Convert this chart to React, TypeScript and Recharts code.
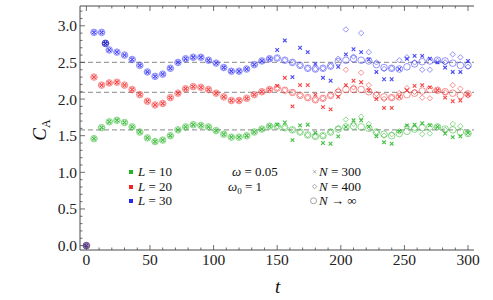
import React from 'react';
import { ScatterChart, Scatter, XAxis, YAxis, ReferenceLine } from 'recharts';

// time grid
const T = [0, 6, 12, 18, 24, 30, 36, 42, 48, 54, 60,
  66, 72, 78, 84, 90, 96, 102, 108, 114, 120,
  126, 132, 138, 144, 150, 156, 162, 168, 174, 180,
  186, 192, 198, 204, 210, 216, 222, 228, 234, 240,
  246, 252, 258, 264, 270, 276, 282, 288, 294, 300];

// L = 30 (blue)
const L30_INF = [0, 2.91, 2.91, 2.67, 2.64, 2.60, 2.54, 2.46, 2.37, 2.31, 2.34,
  2.42, 2.50, 2.55, 2.57, 2.57, 2.53, 2.49, 2.43, 2.38, 2.38,
  2.41, 2.47, 2.52, 2.55, 2.56, 2.53, 2.50, 2.46, 2.42, 2.41,
  2.42, 2.45, 2.51, 2.53, 2.55, 2.53, 2.52, 2.47, 2.43, 2.42,
  2.41, 2.44, 2.48, 2.51, 2.52, 2.53, 2.52, 2.49, 2.46, 2.46];
const L30_N400 = [0, 2.91, 2.91, 2.67, 2.64, 2.60, 2.54, 2.46, 2.37, 2.31, 2.34,
  2.42, 2.50, 2.55, 2.57, 2.57, 2.53, 2.49, 2.43, 2.38, 2.38,
  2.41, 2.47, 2.52, 2.55, 2.56, 2.53, 2.50, 2.46, 2.42, 2.41,
  2.42, 2.45, 2.55, 2.95, 2.58, 2.90, 2.64, 2.50, 2.41, 2.42,
  2.53, 2.57, 2.50, 2.40, 2.40, 2.52, 2.50, 2.61, 2.57, 2.44];
const L30_N300 = [0, 2.91, 2.91, 2.67, 2.64, 2.60, 2.54, 2.46, 2.37, 2.31, 2.34,
  2.42, 2.50, 2.55, 2.57, 2.57, 2.53, 2.49, 2.43, 2.38, 2.38,
  2.41, 2.47, 2.52, 2.55, 2.67, 2.80, 2.30, 2.70, 2.64, 2.48,
  2.29, 2.25, 2.44, 2.61, 2.68, 2.64, 2.54, 2.37, 2.27, 2.27,
  2.41, 2.55, 2.59, 2.59, 2.55, 2.50, 2.43, 2.37, 2.37, 2.52];

// L = 20 (red)
const L20_INF = [0, 2.30, 2.19, 2.22, 2.23, 2.19, 2.13, 2.06, 1.97, 1.92, 1.94,
  2.02, 2.08, 2.14, 2.17, 2.16, 2.13, 2.08, 2.03, 1.98, 1.98,
  2.01, 2.06, 2.10, 2.13, 2.15, 2.12, 2.09, 2.05, 2.02, 1.99,
  2.01, 2.05, 2.09, 2.13, 2.13, 2.13, 2.10, 2.05, 2.03, 2.02,
  2.03, 2.06, 2.08, 2.11, 2.13, 2.12, 2.10, 2.08, 2.05, 2.07];
const L20_N400 = [0, 2.30, 2.19, 2.22, 2.23, 2.19, 2.13, 2.06, 1.97, 1.92, 1.94,
  2.02, 2.08, 2.14, 2.17, 2.16, 2.13, 2.08, 2.03, 1.98, 1.98,
  2.01, 2.06, 2.10, 2.13, 2.15, 2.12, 2.09, 2.05, 2.02, 1.99,
  2.01, 2.05, 2.12, 2.40, 2.16, 2.36, 2.19, 2.07, 2.00, 2.02,
  2.08, 2.15, 2.10, 2.02, 2.01, 2.12, 2.09, 2.19, 2.14, 2.05];
const L20_N300 = [0, 2.30, 2.19, 2.22, 2.23, 2.19, 2.13, 2.06, 1.97, 1.92, 1.94,
  2.02, 2.08, 2.14, 2.17, 2.16, 2.13, 2.08, 2.03, 1.98, 1.98,
  2.01, 2.06, 2.10, 2.13, 2.18, 2.29, 1.90, 2.19, 2.19, 2.06,
  1.89, 1.86, 2.03, 2.19, 2.25, 2.23, 2.12, 2.00, 1.88, 1.88,
  2.03, 2.12, 2.18, 2.19, 2.16, 2.12, 2.02, 1.97, 1.98, 2.06];

// L = 10 (green)
const L10_INF = [0, 1.46, 1.61, 1.69, 1.71, 1.68, 1.62, 1.55, 1.47, 1.42, 1.44,
  1.50, 1.58, 1.62, 1.65, 1.64, 1.62, 1.57, 1.52, 1.48, 1.48,
  1.50, 1.55, 1.59, 1.63, 1.63, 1.61, 1.58, 1.55, 1.51, 1.49,
  1.50, 1.55, 1.59, 1.62, 1.63, 1.62, 1.60, 1.55, 1.52, 1.50,
  1.53, 1.56, 1.59, 1.61, 1.62, 1.62, 1.59, 1.58, 1.55, 1.53];
const L10_N400 = [0, 1.46, 1.61, 1.69, 1.71, 1.68, 1.62, 1.55, 1.47, 1.42, 1.44,
  1.50, 1.58, 1.62, 1.65, 1.64, 1.62, 1.57, 1.52, 1.48, 1.48,
  1.50, 1.55, 1.59, 1.63, 1.63, 1.61, 1.58, 1.55, 1.51, 1.49,
  1.50, 1.55, 1.60, 1.72, 1.66, 1.76, 1.66, 1.55, 1.50, 1.52,
  1.56, 1.62, 1.60, 1.52, 1.53, 1.62, 1.58, 1.66, 1.63, 1.53];
const L10_N300 = [0, 1.46, 1.61, 1.69, 1.71, 1.68, 1.62, 1.55, 1.47, 1.42, 1.44,
  1.50, 1.58, 1.62, 1.65, 1.64, 1.62, 1.57, 1.52, 1.48, 1.48,
  1.50, 1.55, 1.59, 1.63, 1.65, 1.68, 1.44, 1.64, 1.65, 1.54,
  1.40, 1.39, 1.49, 1.62, 1.71, 1.71, 1.62, 1.49, 1.41, 1.39,
  1.56, 1.64, 1.65, 1.67, 1.64, 1.62, 1.53, 1.48, 1.49, 1.54];

// extra sample (dark blue)
const EXTRA_T = [15];
const EXTRA_L30 = [2.76];

// asymptotic dashed levels
const LEVELS = [1.58, 2.09, 2.50];

const X_TICKS = [0, 10, 20, 30, 40, 50, 60, 70, 80, 90, 100, 110, 120, 130, 140, 150,
  160, 170, 180, 190, 200, 210, 220, 230, 240, 250, 260, 270, 280, 290, 300];
const Y_TICKS = [0, 0.1, 0.2, 0.3, 0.4, 0.5, 0.6, 0.7, 0.8, 0.9, 1.0, 1.1, 1.2, 1.3, 1.4, 1.5,
  1.6, 1.7, 1.8, 1.9, 2.0, 2.1, 2.2, 2.3, 2.4, 2.5, 2.6, 2.7, 2.8, 2.9, 3.0, 3.1, 3.2];

const GREEN = '#22b422';
const RED = '#f42424';
const BLUE = '#2828f4';
const FRAME = '#4a4a4a';
const SERIF = "'Liberation Serif', 'Times New Roman', Times, serif";

const build = (ts: number[], vs: number[]) => ts.map((t, i) => ({ t, v: vs[i] }));

const ok = (p: any) => Number.isFinite(p?.cx) && Number.isFinite(p?.cy);

const ring = (color: string, op = 0.5) => (p: any) =>
  ok(p) ? <circle cx={p.cx} cy={p.cy} r={3.3} fill="none" stroke={color} strokeOpacity={op} strokeWidth={1} /> : <g />;
const diamond = (color: string, op = 0.5) => (p: any) =>
  ok(p) ? (
    <path
      d={`M${p.cx},${p.cy - 2.7}L${p.cx + 2.7},${p.cy}L${p.cx},${p.cy + 2.7}L${p.cx - 2.7},${p.cy}Z`}
      fill="none" stroke={color} strokeOpacity={op} strokeWidth={1}
    />
  ) : <g />;
const cross = (color: string, op = 0.85) => (p: any) =>
  ok(p) ? (
    <path
      d={`M${p.cx - 1.8},${p.cy - 1.8}L${p.cx + 1.8},${p.cy + 1.8}M${p.cx - 1.8},${p.cy + 1.8}L${p.cx + 1.8},${p.cy - 1.8}`}
      fill="none" stroke={color} strokeOpacity={op} strokeWidth={1.1}
    />
  ) : <g />;

const isMajorX = (v: number) => v % 50 === 0;
const isMajorY = (v: number) => Math.abs(v * 2 - Math.round(v * 2)) < 1e-6;

const tickTextStyle: React.CSSProperties = { fontFamily: SERIF, fontSize: 15.5 };

const BottomTick = (props: any) => {
  const { x, y, payload } = props;
  const v = payload.value;
  const major = isMajorX(v);
  return (
    <g>
      <line x1={x} y1={y} x2={x} y2={y - (major ? 5 : 2.5)} stroke={FRAME} strokeWidth={0.8} />
      {major && (
        <text x={x} y={y + 15} textAnchor="middle" style={tickTextStyle} fill="#222">
          {String(v)}
        </text>
      )}
    </g>
  );
};

const TopTick = (props: any) => {
  const { x, y, payload } = props;
  const major = isMajorX(payload.value);
  return <line x1={x} y1={y} x2={x} y2={y + (major ? 5 : 2.5)} stroke={FRAME} strokeWidth={0.8} />;
};

const LeftTick = (props: any) => {
  const { x, y, payload } = props;
  const v = payload.value;
  const major = isMajorY(v);
  return (
    <g>
      <line x1={x} y1={y} x2={x + (major ? 5 : 2.5)} y2={y} stroke={FRAME} strokeWidth={0.8} />
      {major && (
        <text x={x - 3} y={y + 5.5} textAnchor="end" style={tickTextStyle} fill="#222">
          {v.toFixed(1)}
        </text>
      )}
    </g>
  );
};

const RightTick = (props: any) => {
  const { x, y, payload } = props;
  const major = isMajorY(payload.value);
  return <line x1={x} y1={y} x2={x - (major ? 5 : 2.5)} y2={y} stroke={FRAME} strokeWidth={0.8} />;
};

const groups = [
  { color: GREEN, inf: L10_INF, n400: L10_N400, n300: L10_N300 },
  { color: RED, inf: L20_INF, n400: L20_N400, n300: L20_N300 },
  { color: BLUE, inf: L30_INF, n400: L30_N400, n300: L30_N300 },
];

const legendText: React.CSSProperties = {
  position: 'absolute',
  fontFamily: SERIF,
  fontSize: 13,
  lineHeight: '14px',
  color: '#111',
  whiteSpace: 'nowrap',
};

export default function App() {
  return (
    <div style={{ position: 'absolute', left: 0, top: 0, width: 493, height: 300, background: '#fff', fontFamily: SERIF }}>
      <ScatterChart width={493} height={300} margin={{ top: 4, right: 19, bottom: 20, left: 30 }}>
        <XAxis
          xAxisId="b" type="number" dataKey="t" domain={[-5, 304.7]} ticks={X_TICKS} interval={0}
          tick={<BottomTick />} tickLine={false} tickSize={0} tickMargin={0}
          axisLine={{ stroke: FRAME, strokeWidth: 1 }} height={30} allowDataOverflow
        />
        <XAxis
          xAxisId="top" orientation="top" type="number" dataKey="t" domain={[-5, 304.7]} ticks={X_TICKS} interval={0}
          tick={<TopTick />} tickLine={false} tickSize={0} tickMargin={0}
          axisLine={{ stroke: FRAME, strokeWidth: 1 }} height={2} allowDataOverflow
        />
        <YAxis
          yAxisId="l" type="number" dataKey="v" domain={[-0.06, 3.27]} ticks={Y_TICKS} interval={0}
          tick={<LeftTick />} tickLine={false} tickSize={0} tickMargin={0}
          axisLine={{ stroke: FRAME, strokeWidth: 1 }} width={50} allowDataOverflow
        />
        <YAxis
          yAxisId="r" orientation="right" type="number" dataKey="v" domain={[-0.06, 3.27]} ticks={Y_TICKS} interval={0}
          tick={<RightTick />} tickLine={false} tickSize={0} tickMargin={0}
          axisLine={{ stroke: FRAME, strokeWidth: 1 }} width={0} allowDataOverflow
        />
        {LEVELS.map((lv) => (
          <ReferenceLine key={lv} xAxisId="b" yAxisId="l" y={lv} stroke="#a0a0a0" strokeWidth={1.3} strokeDasharray="5 3" />
        ))}
        {groups.map((g, gi) => (
          <Scatter key={'n300' + gi} xAxisId="b" yAxisId="l" data={build(T, g.n300)} shape={cross(g.color)} isAnimationActive={false} />
        ))}
        {groups.map((g, gi) => (
          <Scatter key={'n400' + gi} xAxisId="b" yAxisId="l" data={build(T, g.n400)} shape={diamond(g.color)} isAnimationActive={false} />
        ))}
        {groups.map((g, gi) => (
          <Scatter key={'inf' + gi} xAxisId="b" yAxisId="l" data={build(T, g.inf)} shape={ring(g.color)} isAnimationActive={false} />
        ))}
        <Scatter xAxisId="b" yAxisId="l" data={build(EXTRA_T, EXTRA_L30)} shape={ring('#1010c0', 0.85)} isAnimationActive={false} />
        <Scatter xAxisId="b" yAxisId="l" data={build(EXTRA_T, EXTRA_L30)} shape={diamond('#1010c0', 0.85)} isAnimationActive={false} />
        <Scatter xAxisId="b" yAxisId="l" data={build(EXTRA_T, EXTRA_L30)} shape={cross('#1010c0', 1)} isAnimationActive={false} />
      </ScatterChart>

      {/* axis labels */}
      <div style={{ position: 'absolute', left: 275, top: 276, fontFamily: SERIF, fontSize: 19, fontStyle: 'italic', color: '#111' }}>t</div>
      <div
        style={{
          position: 'absolute', left: 25, top: 118, width: 32, height: 24, textAlign: 'center',
          transform: 'rotate(-90deg)', fontFamily: SERIF, fontSize: 19, color: '#111', whiteSpace: 'nowrap',
        }}
      >
        <i>C</i><span style={{ fontSize: 12, position: 'relative', top: 4 }}>A</span>
      </div>

      {/* legend: L */}
      {[['L = 10', GREEN, 165], ['L = 20', RED, 179.5], ['L = 30', BLUE, 193.5]].map(([txt, c, top]) => (
        <React.Fragment key={txt as string}>
          <div style={{ position: 'absolute', left: 129, top: (top as number) + 5, width: 4, height: 4, background: c as string }} />
          <div style={{ ...legendText, left: 138, top: top as number }}>
            <i>L</i> = {(txt as string).slice(4)}
          </div>
        </React.Fragment>
      ))}

      {/* parameters */}
      <div style={{ ...legendText, left: 232, top: 165 }}>
        <i>ω</i> = 0.05
      </div>
      <div style={{ ...legendText, left: 228, top: 179.5 }}>
        <i>ω</i><span style={{ fontSize: 9, position: 'relative', top: 3 }}>0</span> = 1
      </div>

      {/* legend: N */}
      <svg style={{ position: 'absolute', left: 0, top: 0 }} width={493} height={300}>
        <path d="M313,170.2L316.2,173.4M313,173.4L316.2,170.2" stroke="#9a9a9a" strokeWidth={0.9} fill="none" />
        <path d="M314.6,184.3L316.8,186.5L314.6,188.7L312.4,186.5Z" stroke="#9a9a9a" strokeWidth={0.9} fill="none" />
        <circle cx={313.5} cy={200.8} r={3} stroke="#9a9a9a" strokeWidth={0.9} fill="none" />
      </svg>
      <div style={{ ...legendText, left: 319, top: 165 }}>
        <i>N</i> = 300
      </div>
      <div style={{ ...legendText, left: 319, top: 179.5 }}>
        <i>N</i> = 400
      </div>
      <div style={{ ...legendText, left: 319, top: 193.5 }}>
        <i>N</i> → ∞
      </div>
    </div>
  );
}
